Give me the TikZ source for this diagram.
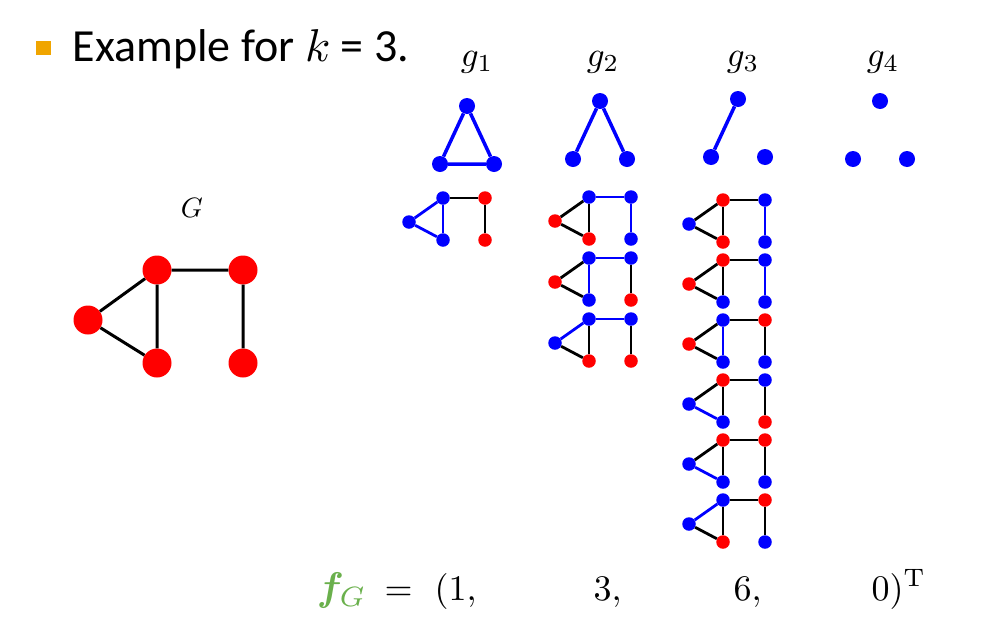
\documentclass[tikz,border=0pt]{standalone}
\usepackage{amsmath,amssymb,bm}
\usepackage[no-math]{fontspec}
\setmainfont{Carlito}
\usepackage{tikz}
\usetikzlibrary{calc}
\definecolor{bulletorange}{RGB}{240,165,0}
\definecolor{fgreen}{RGB}{106,176,76}
\tikzset{bigvtx/.style={circle,fill=red,inner sep=0pt,minimum size=29pt}}
\tikzset{motifvtx/.style={circle,fill=blue,inner sep=0pt,minimum size=16pt}}
\tikzset{occvtx/.style={circle,inner sep=0pt,minimum size=13.5pt}}
\tikzset{link/.style={line width=3pt}}
\tikzset{txt/.style={inner sep=0pt,anchor=base west}}
% one occurrence: name, x, y of the top-left vertex, then 1 = blue for L,A,B,C,D
\newcommand*{\Occ}[8]{%
  \foreach \nm/\dx/\dy/\fl in {L/-34/24/#4,A/0/0/#5,B/0/42/#6,C/42/0/#7,D/42/42/#8}{%
    \ifnum\fl=1 \def\vcol{blue}\else\def\vcol{red}\fi
    \node[occvtx,fill=\vcol] (#1\nm) at (#2+\dx,#3+\dy) {};
  }
  \foreach \p/\q/\fl in {L/A/#4#5,L/B/#4#6,A/B/#5#6,A/C/#5#7,C/D/#7#8}{%
    \ifnum\fl=11 \def\ecol{blue}\else\def\ecol{black}\fi
    \draw[line width=2.8pt,draw=\ecol] (#1\p) -- (#1\q);
  }
}

\begin{document}
\begin{tikzpicture}[x=1pt,y=-1pt]
\useasboundingbox (0,0) rectangle (995,627);

\node[fill=bulletorange,inner sep=0pt,minimum width=15pt,minimum height=14pt] (bul) at (43.5,48) {};
\node[txt,scale=4.6] (title) at (72,61) {Example for $k$ = 3.};

% the graph G
\node[anchor=base,inner sep=0pt,scale=2.8] (Glab) at (192,217) {$G$};
\node[bigvtx] (gL) at (88,320) {};
\node[bigvtx] (gA) at (157,270) {};
\node[bigvtx] (gB) at (157,363) {};
\node[bigvtx] (gC) at (243,270) {};
\node[bigvtx] (gD) at (243,363) {};
\draw[link] (gL) -- (gA) (gL) -- (gB) (gA) -- (gB) (gA) -- (gC) (gC) -- (gD);

% the graphlets g_1 ... g_4
\foreach \i/\x/\y in {1/467/106,2/600/101,3/738/99,4/880/101}{%
  \node[motifvtx] (t\i) at (\x,\y) {};
  \node[motifvtx] (l\i) at (\x-27,\y+58) {};
  \node[motifvtx] (r\i) at (\x+27,\y+58) {};
}
\foreach \i/\x in {1/477,2/603,3/743,4/883}
  \node[anchor=base,inner sep=0pt,scale=3.5] (glab\i) at (\x,66) {$g_{\i}$};
\draw[blue,line width=3.5pt] (t1) -- (l1) (l1) -- (r1) (r1) -- (t1);
\draw[blue,line width=3.5pt] (t2) -- (l2) (t2) -- (r2);
\draw[blue,line width=3.5pt] (t3) -- (l3);

% occurrences in G
\Occ{pa}{443}{198}{1}{1}{1}{0}{0}
\Occ{qa}{589}{197}{0}{1}{0}{1}{1}
\Occ{qb}{589}{258}{0}{1}{1}{1}{0}
\Occ{qc}{589}{319}{1}{1}{0}{1}{0}
\Occ{ra}{723}{200}{1}{0}{0}{1}{1}
\Occ{rb}{723}{260}{0}{0}{1}{1}{1}
\Occ{rc}{723}{320}{0}{1}{1}{0}{1}
\Occ{rd}{723}{380}{1}{0}{1}{1}{0}
\Occ{re}{723}{440}{1}{0}{1}{0}{1}
\Occ{rf}{723}{500}{1}{1}{0}{0}{1}

% the count vector
\node[txt,scale=4] (fG) at (316,600) {$\color{fgreen}\bm{f}_{G}$};
\node[txt,scale=3.6] (eq) at (384,600) {$=$};
\node[txt,scale=3.6] (n1) at (434,600) {$(1,$};
\node[txt,scale=3.6] (n2) at (593,600) {$3,$};
\node[txt,scale=3.6] (n3) at (733,600) {$6,$};
\node[txt,scale=3.6] (n4) at (871,600) {$0)^{\mathrm{T}}$};
\end{tikzpicture}
\end{document}
